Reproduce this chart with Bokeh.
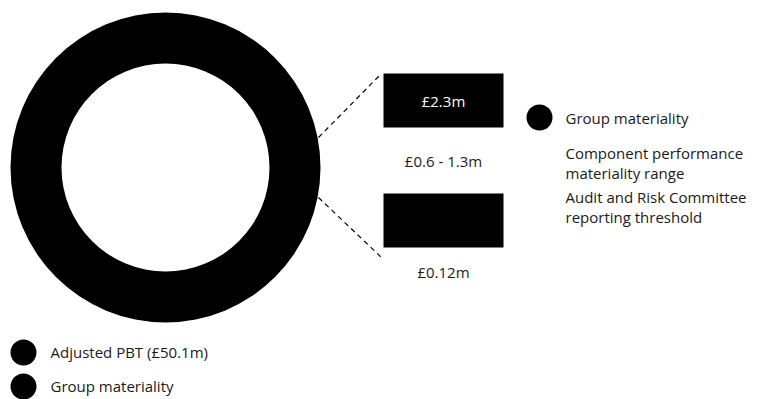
from bokeh.plotting import figure
from bokeh.models import Range1d
from bokeh.core.properties import value
from bokeh.embed import file_html
from bokeh.resources import INLINE

# ---- data ----
adjusted_pbt = [50.1]
ring_labels = ["Adjusted PBT (£50.1m)", "Group materiality"]
bar_labels = ["£2.3m", ""]
bar_captions = ["£0.6 - 1.3m", "£0.12m"]
legend_labels = ["Group materiality",
                 "Component performance\nmateriality range",
                 "Audit and Risk Committee\nreporting threshold"]

W, H = 770, 399
FONT = value("Open Sans")
FS = "15px"
TXT = "#1a1a1a"
p = figure(width=W, height=H, output_backend="svg", toolbar_location=None,
           x_range=Range1d(0, W), y_range=Range1d(H, 0), min_border=0)
p.axis.visible = False
p.grid.visible = False
p.outline_line_color = None
p.background_fill_color = "white"

# donut (single full ring for adjusted PBT)
cx, cy, r_out, r_in = 165, 167, 155, 104
p.annulus(x=[cx] * len(adjusted_pbt), y=[cy] * len(adjusted_pbt),
          inner_radius=r_in, outer_radius=r_out,
          fill_color="black", line_color=None)

# bars
bx0, bx1 = 383, 503
tops = [73, 193]
bh = 54
p.quad(left=[bx0] * 2, right=[bx1] * 2, top=tops, bottom=[t + bh for t in tops],
       fill_color="black", line_color=None)
p.text(x=[(bx0 + bx1) / 2] * 2, y=[t + bh / 2 for t in tops], text=bar_labels,
       text_color="white", text_font=FONT, text_font_size=FS,
       text_align="center", text_baseline="middle")
p.text(x=[(bx0 + bx1) / 2] * 2, y=[160, 271], text=bar_captions,
       text_color=TXT, text_font=FONT, text_font_size=FS,
       text_align="center", text_baseline="middle")

# dashed connectors
p.segment(x0=[318, 318], y0=[137, 197], x1=[381, 381], y1=[73, 257],
          line_color="black", line_width=1.2, line_dash="5 4")

# right legend
p.circle(x=[539], y=[117], radius=13, fill_color="black", line_color=None)
leg_y = [117, 152, 196]
lx, ly, lt = [], [], []
for y0, lab in zip(leg_y, legend_labels):
    for i, line in enumerate(lab.split("\n")):
        lx.append(565)
        ly.append(y0 + i * 20.5)
        lt.append(line)
p.text(x=lx, y=ly, text=lt,
       text_color=TXT, text_font=FONT, text_font_size=FS,
       text_align="left", text_baseline="middle")

# bottom legend
p.circle(x=[23, 23], y=[352, 386], radius=13, fill_color="black", line_color=None)
p.text(x=[50, 50], y=[351, 385], text=ring_labels,
       text_color=TXT, text_font=FONT, text_font_size=FS,
       text_align="left", text_baseline="middle")

open("out.html", "w").write(file_html(p, INLINE))
